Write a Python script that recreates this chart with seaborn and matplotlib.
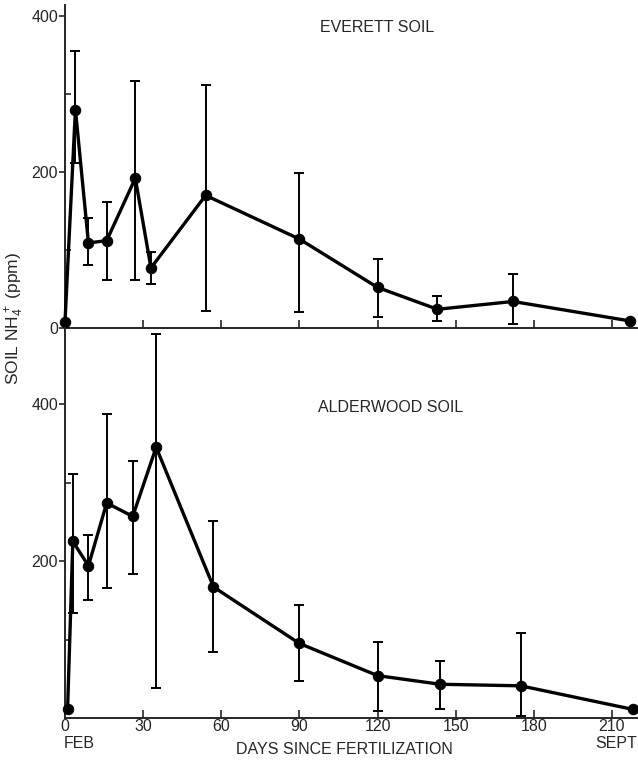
import numpy as np
import pandas as pd
import matplotlib
matplotlib.use("Agg")
import matplotlib.pyplot as plt
import seaborn as sns

# ---- data ----
ev_days = [0, 4, 9, 16, 27, 33, 54, 90, 120, 143, 172, 217]
ev_vals = [8, 280, 109, 112, 192, 77, 170, 114, 52, 24, 34, 9]
ev_hi = [np.nan, 355, 141, 161, 317, 98, 312, 199, 89, 41, 69, np.nan]
ev_lo = [np.nan, 211, 81, 62, 62, 57, 22, 20, 14, 9, 5, np.nan]

al_days = [1, 3, 9, 16, 26, 35, 57, 90, 120, 144, 175, 218]
al_vals = [12, 225, 194, 274, 257, 345, 167, 95, 54, 43, 41, 11]
al_hi = [np.nan, 311, 233, 387, 327, 489, 251, 144, 97, 73, 108, np.nan]
al_lo = [np.nan, 134, 151, 166, 183, 38, 84, 47, 9, 12, 3, np.nan]

x_ticks = [0, 30, 60, 90, 120, 150, 180, 210]
panel_titles = ["EVERETT SOIL", "ALDERWOOD SOIL"]

sns.set_style("ticks")
plt.rcParams['font.family'] = ['Liberation Sans', 'DejaVu Sans']
plt.rcParams['mathtext.default'] = 'regular'

FS = 11.5

fig = plt.figure(figsize=(6.38, 7.66), dpi=100)
W, H = 638, 766
x0, x1 = 65, 638
ybot = 718
ax_top = fig.add_axes([x0 / W, 1 - 328 / H, (x1 - x0) / W, (328 - 5) / H])
ax_bot = fig.add_axes([x0 / W, 1 - ybot / H, (x1 - x0) / W, (ybot - 328) / H])


def draw(ax, days, vals, hi, lo, ylim):
    df = pd.DataFrame({"day": days, "val": vals, "hi": hi, "lo": lo})
    sns.lineplot(data=df, x="day", y="val", ax=ax, color="black", lw=2.4,
                 marker="o", markersize=7.5, markeredgecolor="black",
                 estimator=None, sort=False, clip_on=False, zorder=3)
    e = df.dropna()
    ax.errorbar(e["day"], e["val"], yerr=[e["val"] - e["lo"], e["hi"] - e["val"]],
                fmt="none", ecolor="black", elinewidth=1.4, capsize=3.5,
                capthick=1.4, zorder=2, clip_on=False)
    ax.set_xlim(0, 220)
    ax.set_ylim(*ylim)
    sns.despine(ax=ax, top=True, right=True)
    for s in ["left", "bottom"]:
        ax.spines[s].set_linewidth(1.4)
    ax.set_xlabel("")
    ax.set_ylabel("")
    ax.set_xticks(x_ticks)
    ax.tick_params(axis="x", direction="in", length=6, width=1.2, pad=1,
                   labelsize=FS)
    ax.tick_params(axis="y", direction="out", length=4, width=1.2, pad=1,
                   labelsize=FS)
    ax.set_yticks([100, 300], minor=True)
    ax.tick_params(axis="y", which="minor", direction="in", length=4, width=1.2)
    ax.patch.set_visible(False)


draw(ax_top, ev_days, ev_vals, ev_hi, ev_lo, (0, 414))
draw(ax_bot, al_days, al_vals, al_hi, al_lo, (0, 497))

ax_top.set_yticks([0, 200, 400])
ax_top.tick_params(axis="x", labelbottom=False)
ax_bot.set_yticks([200, 400])

ax_top.text((320 - x0) / (x1 - x0), (328 - 28) / 323, panel_titles[0],
            transform=ax_top.transAxes, ha="left", va="center", fontsize=FS)
ax_bot.text((318 - x0) / (x1 - x0), (ybot - 407) / (ybot - 328), panel_titles[1],
            transform=ax_bot.transAxes, ha="left", va="center", fontsize=FS)

fig.text(15 / W, 1 - 318 / H, "SOIL NH$_4^+$ (ppm)", rotation=90,
         ha="center", va="center", fontsize=12.5)
fig.text(64 / W, 1 - 744 / H, "FEB", ha="left", va="center", fontsize=FS)
fig.text(637 / W, 1 - 744 / H, "SEPT", ha="right", va="center", fontsize=FS)
fig.text(344 / W, 1 - 750 / H, "DAYS SINCE FERTILIZATION", ha="center",
         va="center", fontsize=FS)

fig.savefig("out.png", dpi=100)
